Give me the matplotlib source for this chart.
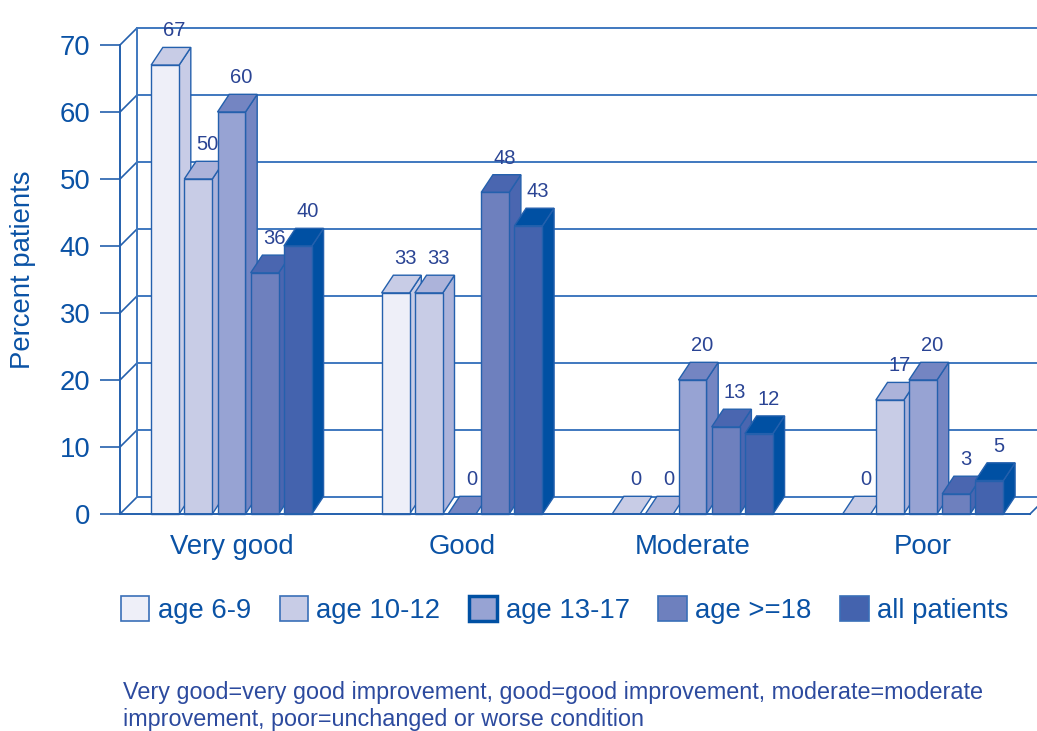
import matplotlib
matplotlib.use("Agg")
import matplotlib.pyplot as plt
from matplotlib.patches import Polygon, Rectangle, Patch

plt.rcParams['font.family'] = ['Liberation Sans', 'DejaVu Sans']

# ---- data ----
categories = ["Very good", "Good", "Moderate", "Poor"]
series = ["age 6-9", "age 10-12", "age 13-17", "age >=18", "all patients"]
age_6_9 = [67, 33, 0, 0]
age_10_12 = [50, 33, 0, 17]
age_13_17 = [60, 0, 20, 20]
age_18_plus = [36, 48, 13, 3]
all_patients = [40, 43, 12, 5]
values = [age_6_9, age_10_12, age_13_17, age_18_plus, all_patients]
yticks = [0, 10, 20, 30, 40, 50, 60, 70]
footnote = ("Very good=very good improvement, good=good improvement, moderate=moderate\n"
            "improvement, poor=unchanged or worse condition")

# ---- style ----
front_cols = ['#EEEFF8', '#C8CCE6', '#97A3D3', '#6E80BE', '#4463AE']
top_cols = ['#C8CCE6', '#ACB3DA', '#7485C2', '#4A66B0', '#0050A3']
edge = '#2460ad'
grid_col = '#3f78bf'
txt = '#0a52a5'
val_col = '#2a4494'

W, H = 1037, 731
fig = plt.figure(figsize=(W / 100, H / 100), dpi=100)
ax = fig.add_axes([120 / W, 217 / H, 910 / W, 469 / H])
xmin, xmax = -0.4837, 3.4642
ax.set_xlim(xmin, xmax)
ax.set_ylim(0, 70)

pitch = 0.1440
hw = 0.0607
bdx, bdy = 0.0508, 2.64      # bar depth
wdx, wdy = 0.0725, 2.49      # wall depth

# back wall / side wall / floor
far = xmax + 1.0
for v in yticks:
    ax.plot([xmin + wdx, far], [v + wdy, v + wdy], color=grid_col, lw=1.4,
            clip_on=False, zorder=1, solid_capstyle='butt')
    ax.plot([xmin, xmin + wdx], [v, v + wdy], color=edge, lw=1.2,
            clip_on=False, zorder=1)
ax.plot([xmin + wdx, xmin + wdx], [wdy, 70 + wdy], color=grid_col, lw=1.4,
        clip_on=False, zorder=1)
ax.plot([xmax, xmax + wdx], [0, wdy], color=edge, lw=1.2, clip_on=False, zorder=1)

# bars
z = 3
for g in range(len(categories)):
    for i in range(len(series)):
        v = values[i][g]
        x0 = g + (i - 2) * pitch - hw
        x1 = x0 + 2 * hw
        if v > 0:
            ax.add_patch(Polygon([(x1, 0), (x1 + bdx, bdy), (x1 + bdx, v + bdy), (x1, v)],
                                 closed=True, fc=top_cols[i], ec=edge, lw=1.0,
                                 clip_on=False, zorder=z))
            ax.add_patch(Polygon([(x0, v), (x1, v), (x1 + bdx, v + bdy), (x0 + bdx, v + bdy)],
                                 closed=True, fc=top_cols[i], ec=edge, lw=1.0,
                                 clip_on=False, zorder=z))
            ax.add_patch(Rectangle((x0, 0), 2 * hw, v, fc=front_cols[i], ec=edge,
                                   lw=1.0, clip_on=False, zorder=z + 0.5))
        else:
            ax.add_patch(Polygon([(x0, 0), (x1, 0), (x1 + bdx, bdy), (x0 + bdx, bdy)],
                                 closed=True, fc=top_cols[i], ec=edge, lw=1.0,
                                 clip_on=False, zorder=z))
        ax.annotate(str(v), (x0 + hw + bdx * 0.8, v + bdy), xytext=(0, 12),
                    textcoords='offset points', ha='center', va='center',
                    fontsize=14.5, color=val_col, zorder=20, annotation_clip=False)
        z += 1

# axes styling
for s in ['top', 'right']:
    ax.spines[s].set_visible(False)
for s in ['left', 'bottom']:
    ax.spines[s].set_color(edge)
    ax.spines[s].set_linewidth(1.4)
    ax.spines[s].set_zorder(50)
ax.set_yticks(yticks)
ax.tick_params(axis='y', direction='out', length=14.4, width=1.2, color=edge,
               pad=7, labelsize=19.8, labelcolor=txt)
ax.set_xticks(range(len(categories)))
ax.set_xticklabels(categories)
ax.tick_params(axis='x', length=0, pad=14.5, labelsize=19.8, labelcolor=txt)
ax.set_facecolor('none')

fig.text(23 / W, 1 - 270 / H, "Percent patients", rotation=90, ha='center',
         va='center', fontsize=19.8, color=txt)

# legend
handles = []
for i, name in enumerate(series):
    if i == 2:
        handles.append(Patch(fc=front_cols[i], ec='#0050a3', lw=2.5, label=name))
    else:
        handles.append(Patch(fc=front_cols[i], ec='#3a6fb8', lw=1.2, label=name))
fig.legend(handles=handles, loc='center left', bbox_to_anchor=(121 / W, 1 - 610 / H),
           ncol=5, frameon=False, fontsize=19.8, labelcolor=txt,
           handlelength=1.03, handleheight=1.03, handletextpad=0.3,
           columnspacing=1.05, borderpad=0, borderaxespad=0)

fig.text(123 / W, 1 - 706 / H, footnote, ha='left', va='center', fontsize=16.8,
         color='#2c4a9e', linespacing=1.27)

fig.savefig("out.png", dpi=100)
